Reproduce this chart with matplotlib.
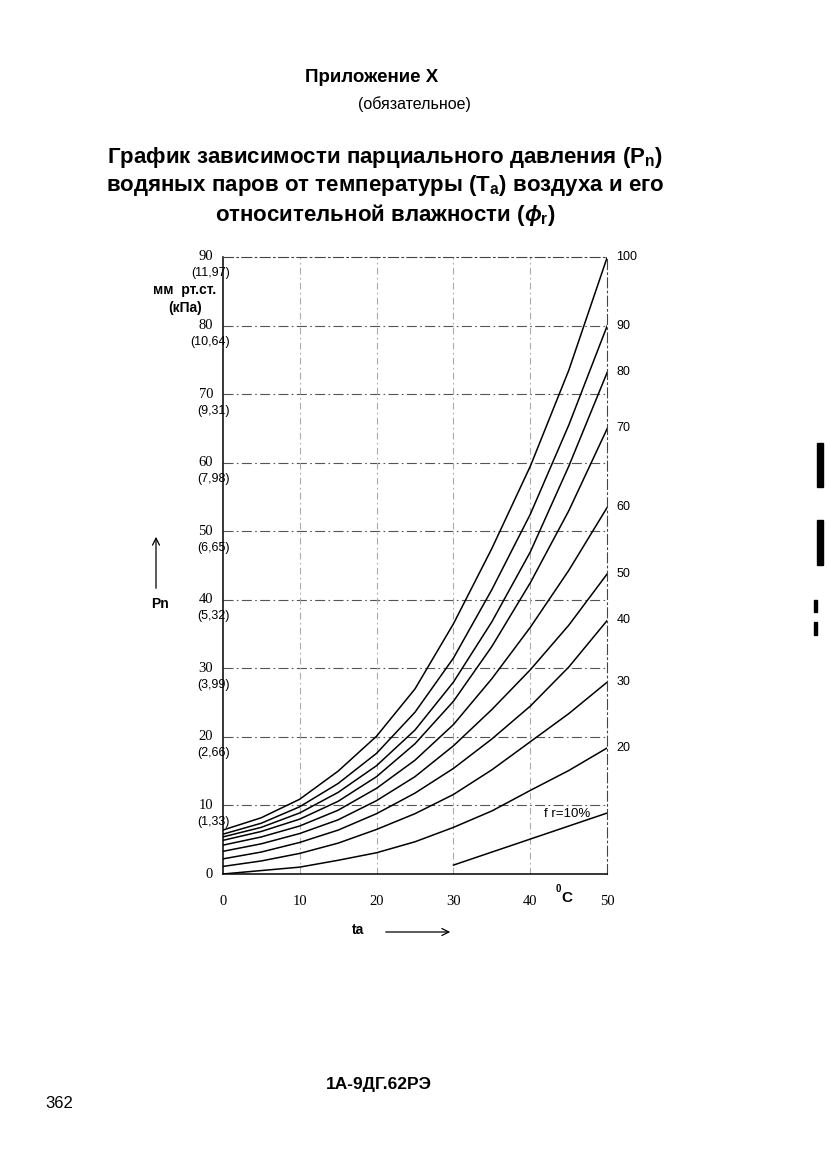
import matplotlib
matplotlib.use("Agg")
import matplotlib.pyplot as plt
from matplotlib.patches import Rectangle, FancyArrowPatch

# temperature, deg C
temps = [0, 5, 10, 15, 20, 25, 30, 35, 40, 45, 50]

# partial pressure, mm Hg for each relative humidity
rh_100 = [6.4, 8.2, 10.9, 15.0, 20.1, 27.0, 36.5, 47.5, 59.5, 73.5, 90.0]
rh_90 = [5.8, 7.4, 9.8, 13.2, 17.6, 23.6, 31.5, 41.5, 52.5, 65.5, 80.0]
rh_80 = [5.4, 6.8, 8.9, 11.9, 15.8, 21.0, 28.0, 36.8, 47.0, 59.5, 73.2]
rh_70 = [4.9, 6.2, 8.0, 10.6, 14.2, 19.0, 25.2, 33.2, 42.5, 53.0, 65.0]
rh_60 = [4.2, 5.4, 7.0, 9.3, 12.5, 16.6, 21.8, 28.5, 36.0, 44.3, 53.5]
rh_50 = [3.3, 4.4, 5.9, 7.9, 10.7, 14.2, 18.7, 24.0, 29.8, 36.3, 43.8]
rh_40 = [2.2, 3.2, 4.6, 6.4, 8.8, 11.8, 15.4, 19.7, 24.5, 30.2, 37.0]
rh_30 = [1.1, 1.9, 3.0, 4.5, 6.5, 8.8, 11.6, 15.2, 19.3, 23.4, 28.0]
rh_20 = [0.0, 0.5, 1.0, 2.0, 3.1, 4.7, 6.8, 9.2, 12.2, 15.1, 18.4]

# the 10 % line only starts at 30 deg C
temps_10 = [30, 35, 40, 45, 50]
rh_10 = [1.3, 3.2, 5.1, 7.0, 8.9]

curves = [(100, rh_100), (90, rh_90), (80, rh_80), (70, rh_70), (60, rh_60),
          (50, rh_50), (40, rh_40), (30, rh_30), (20, rh_20)]

y_ticks = [0, 10, 20, 30, 40, 50, 60, 70, 80, 90]
kpa_labels = ["", "(1,33)", "(2,66)", "(3,99)", "(5,32)", "(6,65)",
              "(7,98)", "(9,31)", "(10,64)", "(11,97)"]
x_ticks = [0, 10, 20, 30, 40, 50]

SANS = ["Liberation Sans", "DejaVu Sans"]
SERIF = ["Liberation Serif", "DejaVu Serif"]

plt.rcParams["font.family"] = SANS
plt.rcParams["mathtext.fontset"] = "custom"
plt.rcParams["mathtext.rm"] = "Liberation Sans:bold"
plt.rcParams["mathtext.it"] = "Liberation Sans:bold:italic"
plt.rcParams["mathtext.bf"] = "Liberation Sans:bold"

W, H = 827, 1169
fig = plt.figure(figsize=(W / 100, H / 100), dpi=100)


def fx(px):
    return px / W


def fy(py):
    return 1 - py / H


# header
fig.text(fx(372), fy(77), "Приложение Х", ha="center", va="center",
         fontsize=13.5, fontweight="bold")
fig.text(fx(414), fy(104), "(обязательное)", ha="center", va="center",
         fontsize=11.5)
title_lines = [
    r"График зависимости парциального давления (P$_{\mathrm{n}}$)",
    r"водяных паров от температуры (T$_{\mathrm{a}}$) воздуха и его",
    r"относительной влажности ($\phi_{\mathrm{r}}$)",
]
for i, line in enumerate(title_lines):
    fig.text(fx(385), fy(157 + 29 * i), line, ha="center", va="center",
             fontsize=16, fontweight="bold")

# plot area
ax = fig.add_axes([fx(222.7), fy(874), fx(607.3) - fx(222.7), fy(257) - fy(874)])
ax.set_xlim(0, 50)
ax.set_ylim(0, 90)

for y in y_ticks[1:-1]:
    ax.axhline(y, color="#555555", lw=0.8, ls=(0, (9, 3, 1.5, 3)), zorder=1)
for x in x_ticks[1:-1]:
    ax.axvline(x, color="#aaaaaa", lw=0.8, ls=(0, (6, 3, 1.5, 3)), zorder=1)

for rh, vals in curves:
    ax.plot(temps, vals, color="black", lw=1.1, zorder=3)
    ax.text(51.2, vals[-1], str(rh), ha="left", va="center", fontsize=9)
ax.plot(temps_10, rh_10, color="black", lw=1.1, zorder=3)
ax.text(44.8, rh_10[-1] - 0.1, "f r=10%", ha="center", va="center", fontsize=9.5)

for side in ["top", "right"]:
    ax.spines[side].set_linestyle((0, (9, 3, 1.5, 3)))
    ax.spines[side].set_color("#444444")
    ax.spines[side].set_linewidth(0.8)
for side in ["left", "bottom"]:
    ax.spines[side].set_color("black")
    ax.spines[side].set_linewidth(1.1)

ax.set_xticks(x_ticks)
ax.set_xticklabels([str(x) for x in x_ticks], family=SERIF, fontsize=10.5)
ax.tick_params(axis="x", length=0, pad=15)
ax.set_yticks(y_ticks)
ax.set_yticklabels([])
ax.tick_params(axis="y", length=0)

ytr = ax.get_yaxis_transform()
for y, kpa in zip(y_ticks, kpa_labels):
    ax.text(-0.025, y, str(y), transform=ytr, ha="right", va="center",
            family=SERIF, fontsize=10.5)
    if kpa:
        ax.text(0.018, y - 2.4, kpa, transform=ytr, ha="right", va="center",
                fontsize=9)

fig.text(fx(185), fy(290), "мм  рт.ст.", ha="center", va="center",
         fontsize=10, fontweight="bold")
fig.text(fx(185), fy(308), "(кПа)", ha="center", va="center",
         fontsize=10, fontweight="bold")

# degree mark near x axis
fig.text(fx(558), fy(889), "0", ha="center", va="center", fontsize=7,
         fontweight="bold")
fig.text(fx(567), fy(898), "C", ha="center", va="center", fontsize=11,
         fontweight="bold")

# axis arrows
fig.text(fx(160), fy(604), "Pn", ha="center", va="center", fontsize=10,
         fontweight="bold")
fig.add_artist(FancyArrowPatch(
    (fx(156), fy(591)), (fx(156), fy(534)), transform=fig.transFigure,
    arrowstyle="->,head_length=5,head_width=2.5", color="black", lw=0.9))
fig.text(fx(358), fy(930), "ta", ha="center", va="center", fontsize=10,
         fontweight="bold")
fig.add_artist(FancyArrowPatch(
    (fx(383), fy(932)), (fx(453), fy(932)), transform=fig.transFigure,
    arrowstyle="->,head_length=5,head_width=2.5", color="black", lw=0.9))

# footer
fig.text(fx(379), fy(1085), "1А-9ДГ.62РЭ", ha="center", va="center",
         fontsize=12.5, fontweight="bold")
fig.text(fx(45), fy(1103), "362", ha="left", va="center", fontsize=12)

# scan marks on the right margin
for x0, y0, w, h in [(817, 443, 6, 44), (817, 520, 6, 45), (814, 600, 3, 12),
                     (814, 622, 3, 13)]:
    fig.add_artist(Rectangle((fx(x0), fy(y0 + h)), w / W, h / H,
                             transform=fig.transFigure, color="black"))

fig.savefig("out.png", dpi=100)
